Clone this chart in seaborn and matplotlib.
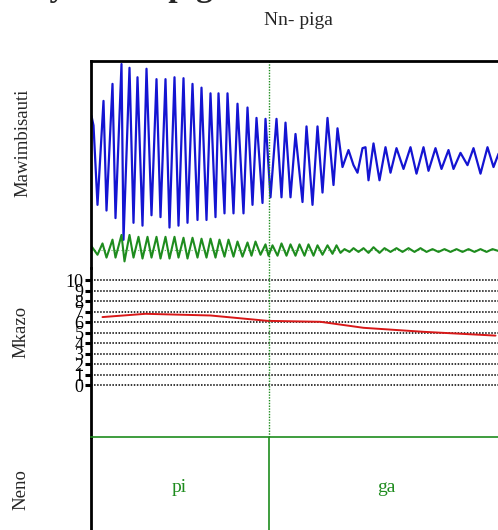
import matplotlib
matplotlib.use("Agg")
import matplotlib.pyplot as plt
import seaborn as sns

# time axis in ms
blue_t = [1, 3, 7, 13, 16, 22, 25, 31, 33, 39, 43, 47, 52, 56, 61, 66, 70, 75, 79, 84,
          88, 93, 97, 102, 107, 111, 116, 120, 125, 128, 134, 137, 143, 147, 153, 157,
          162, 166, 172, 175, 180, 186, 191, 195, 200, 205, 212, 216, 222, 227, 232,
          237, 243, 247, 252, 258, 263, 267, 272, 275, 278, 283, 289, 295, 300, 306,
          313, 320, 326, 333, 338, 345, 351, 358, 363, 370, 377, 383, 390, 397, 403,
          408, 413]
blue_amp = [0.45, 0.35, -0.49, 0.61, -0.55, 0.79, -0.63, 1.00, -0.86, 0.96, -0.68, 0.86,
            -0.71, 0.95, -0.60, 0.84, -0.62, 0.84, -0.73, 0.86, -0.71, 0.85, -0.68, 0.79,
            -0.65, 0.75, -0.65, 0.69, -0.62, 0.69, -0.58, 0.69, -0.58, 0.58, -0.58, 0.54,
            -0.49, 0.43, -0.47, 0.42, -0.41, 0.42, -0.41, 0.38, -0.41, 0.26, -0.46, 0.34,
            -0.49, 0.34, -0.36, 0.43, -0.28, 0.32, -0.09, 0.09, -0.07, -0.15, 0.11, 0.12,
            -0.23, 0.16, -0.23, 0.12, -0.15, 0.11, -0.11, 0.12, -0.16, 0.12, -0.13, 0.11,
            -0.11, 0.09, -0.11, 0.06, -0.07, 0.11, -0.16, 0.12, -0.09, 0.05, 0.11]

green_t = [1, 7, 12, 16, 22, 25, 31, 34, 39, 43, 48, 52, 57, 61, 66, 70, 75, 79, 84, 88,
           93, 97, 102, 107, 111, 116, 120, 125, 129, 134, 138, 143, 147, 152, 157, 161,
           165, 170, 175, 178, 182, 187, 191, 196, 200, 205, 209, 214, 218, 223, 227,
           232, 237, 242, 246, 250, 254, 259, 263, 268, 273, 278, 283, 289, 294, 300,
           306, 312, 318, 324, 330, 336, 342, 348, 354, 360, 366, 372, 378, 384, 390,
           396, 402, 408, 413]
green_amp = [0.04, -0.05, 0.07, -0.08, 0.11, -0.08, 0.16, -0.12, 0.16, -0.08, 0.14, -0.09,
             0.14, -0.08, 0.14, -0.09, 0.14, -0.09, 0.14, -0.08, 0.13, -0.09, 0.13, -0.08,
             0.12, -0.08, 0.12, -0.08, 0.11, -0.07, 0.11, -0.07, 0.09, -0.07, 0.08, -0.06,
             0.09, -0.05, 0.06, -0.06, 0.05, -0.06, 0.07, -0.06, 0.06, -0.06, 0.06, -0.06,
             0.06, -0.06, 0.05, -0.05, 0.05, -0.04, 0.05, -0.03, 0.01, -0.02, 0.02, -0.02,
             0.02, -0.03, 0.03, -0.03, 0.02, -0.02, 0.02, -0.02, 0.02, -0.02, 0.02, -0.02,
             0.01, -0.02, 0.01, -0.02, 0.01, -0.02, 0.01, -0.02, 0.01, -0.02, 0.01, -0.01,
             0.01]

# Mkazo contour
stress_t = [12, 55, 120, 177, 230, 273, 333, 405]
stress_val = [6.48, 6.79, 6.63, 6.12, 6.03, 5.46, 5.08, 4.72]
stress_ticks = list(range(0, 11))

# syllables (Neno tier)
syllables = ["pi", "ga"]
syll_bounds = [0, 178, 414]

BLUE = "#1414d2"
GREEN = "#1e8c1e"
RED = "#d81818"

sns.set_theme(style="white")
plt.rcParams["font.family"] = ["Liberation Serif", "DejaVu Serif"]

W, H = 498, 530
fig = plt.figure(figsize=(W / 100, H / 100), dpi=100)


def box(x0, y0, x1, y1):
    return [x0 / W, 1 - y1 / H, (x1 - x0) / W, (y1 - y0) / H]


ax1 = fig.add_axes(box(90.5, 61, 504.5, 268))
ax2 = fig.add_axes(box(90.5, 268, 504.5, 437))
ax3 = fig.add_axes(box(90.5, 437, 504.5, 545))

green_offset = -0.968

# waveforms
sns.lineplot(x=blue_t, y=blue_amp, ax=ax1, color=BLUE, lw=1.6, estimator=None, sort=False)
sns.lineplot(x=green_t, y=[g + green_offset for g in green_amp], ax=ax1, color=GREEN,
             lw=1.5, estimator=None, sort=False)
ax1.axhline(green_offset, color=GREEN, lw=0.8, ls=(0, (1, 2)), alpha=0.7)
ax1.set_ylim(-1.158, 1.032)

# Mkazo
for v in stress_ticks:
    ax2.axhline(v, color="black", lw=1.1, ls=(0, (1, 1)))
sns.lineplot(x=stress_t, y=stress_val, ax=ax2, color=RED, lw=1.4, estimator=None, sort=False)
ax2.set_ylim(-4.91, 11.14)
ax2.set_yticks(stress_ticks)
ax2.set_yticklabels([str(v) for v in stress_ticks])
ax2.tick_params(axis="y", left=True, direction="out", length=4, width=2.2,
                labelsize=13, pad=1, colors="black")

# Neno tier
ax3.axvline(syll_bounds[1], color=GREEN, lw=1.2)
for i, s in enumerate(syllables):
    mid = (syll_bounds[i] + syll_bounds[i + 1]) / 2
    ax3.text(mid, 0.537, s, color=GREEN, fontsize=14, ha="center", va="center")
ax3.set_ylim(0, 1)

for ax in (ax1, ax2):
    ax.axvline(syll_bounds[1], color=GREEN, lw=1.0, ls=(0, (1, 1)))

for ax in (ax1, ax2, ax3):
    ax.set_xlim(0, 414)
    ax.set_xticks([])
    ax.set_xlabel("")
    ax.set_ylabel("")
    ax.set_facecolor("none")
    for side in ("top", "right", "bottom"):
        ax.spines[side].set_visible(False)
    ax.spines["left"].set_color("black")
    ax.spines["left"].set_linewidth(2.0)
ax1.set_yticks([])
ax3.set_yticks([])
ax1.spines["top"].set_visible(True)
ax1.spines["top"].set_color("black")
ax1.spines["top"].set_linewidth(2.0)
ax3.spines["top"].set_visible(True)
ax3.spines["top"].set_color(GREEN)
ax3.spines["top"].set_linewidth(1.2)

# labels
fig.text(23 / W, 1 - 143 / H, "Mawimbisauti", rotation=90, ha="center", va="center", fontsize=13.5)
fig.text(21 / W, 1 - 332 / H, "Mkazo", rotation=90, ha="center", va="center", fontsize=13.5)
fig.text(21 / W, 1 - 490 / H, "Neno", rotation=90, ha="center", va="center", fontsize=13.5)

fig.text(298 / W, 1 - 25 / H, "Nn- piga", ha="center", va="baseline", fontsize=14)
# main title sits mostly above the visible area, as in the reference
fig.text(230 / W, 1 + 4 / H, "Sauti ya neno piga", ha="right", va="baseline",
         fontsize=24, fontweight="bold")

fig.savefig("out.png", dpi=100)
